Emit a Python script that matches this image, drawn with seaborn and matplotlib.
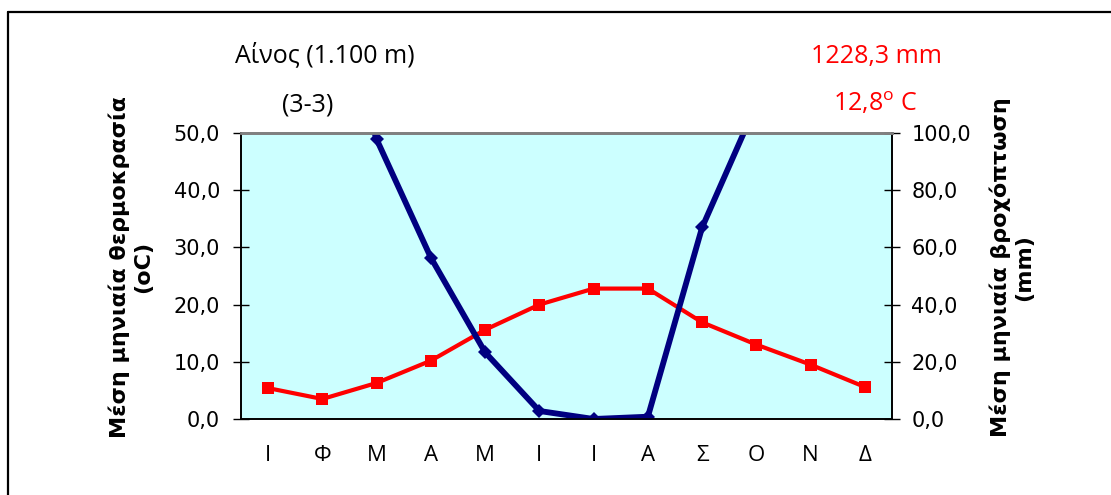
import numpy as np
import pandas as pd
import matplotlib
matplotlib.use("Agg")
import matplotlib.pyplot as plt
import seaborn as sns
from matplotlib.lines import Line2D
from matplotlib.ticker import FuncFormatter, FixedLocator

# Δεδομένα (Αίνος 1.100 m)
months = ["Ι", "Φ", "Μ", "Α", "Μ", "Ι", "Ι", "Α", "Σ", "Ο", "Ν", "Δ"]
temperature = [5.4, 3.5, 6.3, 10.2, 15.6, 20.0, 22.8, 22.8, 16.9, 13.0, 9.5, 5.6]
precipitation = [230.0, 155.0, 97.8, 56.4, 23.3, 2.8, 0.0, 0.8, 67.0, 110.0, 230.0, 255.0]

station = "Αίνος (1.100 m)"
period = "(3-3)"
total_rain = "1228,3 mm"
mean_temp = "12,8$^{\\mathrm{o}}$ C"

df = pd.DataFrame({"x": np.arange(12), "temp": temperature, "rain": precipitation})

sns.set_style("white")
plt.rcParams["font.family"] = ["DejaVu Sans"]
plt.rcParams["text.color"] = "black"
plt.rcParams["axes.labelcolor"] = "black"
plt.rcParams["xtick.color"] = "black"
plt.rcParams["ytick.color"] = "black"
plt.rcParams["mathtext.fontset"] = "custom"
plt.rcParams["mathtext.rm"] = "Open Sans"

fig = plt.figure(figsize=(11.11, 4.95), dpi=100)
ax = fig.add_axes([241 / 1111, 76 / 495, 651 / 1111, 286 / 495])
ax.set_facecolor("#CCFFFF")
ax2 = ax.twinx()

sns.lineplot(data=df, x="x", y="temp", ax=ax, color="#FF0000", linewidth=3,
             marker="s", markersize=8.5, markeredgewidth=0)
sns.lineplot(data=df, x="x", y="rain", ax=ax2, color="#000080", linewidth=4.2,
             marker="D", markersize=7.5, markeredgewidth=0)

ax.set_xlim(-0.5, 11.5)
ax.set_ylim(0, 50)
ax2.set_ylim(0, 100)
ax.set_yticks(np.arange(0, 51, 10))
ax2.set_yticks(np.arange(0, 101, 20))

comma = FuncFormatter(lambda v, p: f"{v:.1f}".replace(".", ","))
ax.yaxis.set_major_formatter(comma)
ax2.yaxis.set_major_formatter(comma)

# ticks στα όρια των μηνών, ετικέτες στο κέντρο
ax.xaxis.set_major_locator(FixedLocator(np.arange(-0.5, 12, 1)))
ax.xaxis.set_minor_locator(FixedLocator(np.arange(12)))
ax.set_xticklabels([])
ax.set_xticklabels(months, minor=True, fontfamily="Open Sans")
ax.tick_params(axis="x", which="major", direction="inout", length=12, width=1, color="black")
ax.tick_params(axis="x", which="minor", length=0, pad=19, labelsize=16, labelcolor="black")
ax.tick_params(axis="y", direction="inout", length=12, width=1, pad=9, labelsize=15,
               left=True, labelcolor="black")
ax2.tick_params(axis="y", direction="inout", length=12, width=1, pad=8, labelsize=15,
                right=True, labelcolor="black")
ax.set_xlabel("")

for a in (ax, ax2):
    for s in a.spines.values():
        s.set_color("black")
        s.set_linewidth(1.2)
    a.spines["top"].set_color("#808080")
    a.spines["top"].set_linewidth(2)

ax.set_ylabel("Μέση μηνιαία θερμοκρασία\n(oC)", fontsize=16, fontweight="bold", linespacing=1.2)
ax2.set_ylabel("Μέση μηνιαία βροχόπτωση\n(mm)", fontsize=16, fontweight="bold", linespacing=1.2,
               rotation=90, va="top")
ax.yaxis.set_label_coords(-0.135, 0.53)
ax2.yaxis.set_label_coords(1.150, 0.53)

fig.text(325 / 1111, 1 - 62 / 495, station, ha="center", va="baseline",
         fontsize=18, family="Open Sans")
fig.text(308 / 1111, 1 - 111 / 495, period, ha="center", va="baseline",
         fontsize=18, family="Open Sans")
fig.text(876 / 1111, 1 - 63 / 495, total_rain, ha="center", va="baseline",
         fontsize=18, family="Open Sans", color="#FF0000")
fig.text(875 / 1111, 1 - 111 / 495, mean_temp, ha="center", va="baseline",
         fontsize=18, family="Open Sans", color="#FF0000")

# εξωτερικό πλαίσιο
fx, fy = 7.5 / 1111, 1 - 11.5 / 495
fig.add_artist(Line2D([fx, fx], [0, fy], color="black", linewidth=1.6))
fig.add_artist(Line2D([fx, 1], [fy, fy], color="black", linewidth=1.6))

fig.savefig("out.png", dpi=100)
